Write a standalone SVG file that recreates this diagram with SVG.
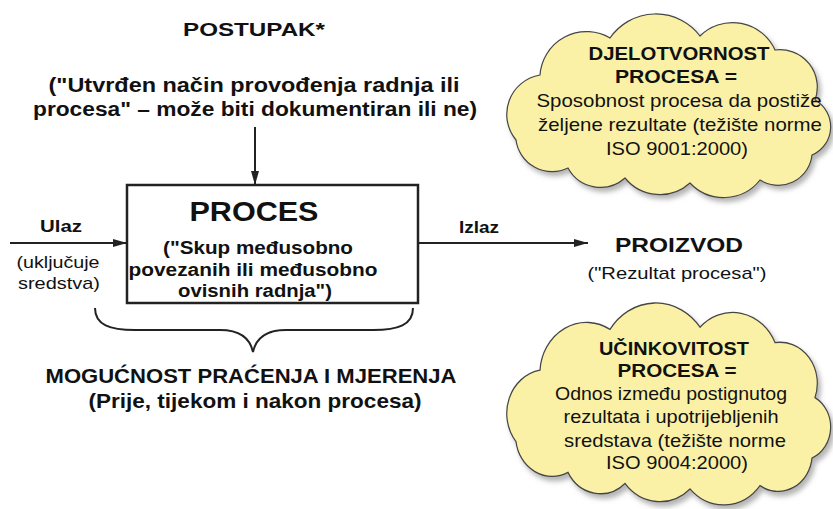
<svg xmlns="http://www.w3.org/2000/svg" width="833" height="509" viewBox="0 0 833 509">
<style>
text{font-family:"Liberation Sans",Arial,sans-serif;fill:#111;text-anchor:middle}
.b{font-weight:bold}
.ln{stroke:#222;stroke-width:2;fill:none}
.cloud{fill:#fbf1a6;stroke:#444;stroke-width:1.2}
</style>
<defs>
<marker id="ah" markerUnits="userSpaceOnUse" markerWidth="15" markerHeight="10" refX="14" refY="5" orient="auto">
<path d="M0,1 L14,5 L0,9 z" fill="#222"/>
</marker>
<filter id="sh" x="-10%" y="-10%" width="125%" height="130%">
<feDropShadow dx="3" dy="4" stdDeviation="2.5" flood-color="#777" flood-opacity="0.55"/>
</filter>
<path id="cl" d="M516,140 A40,40 0 0 1 540,75 A46.6,46.6 0 0 1 610,38 A55.5,55.5 0 0 1 700,36 A46.4,46.4 0 0 1 775,50 A37.4,37.4 0 0 1 815,100 A30.7,30.7 0 0 1 812,155 A34,34 0 0 1 760,180 A46.3,46.3 0 0 1 690,183 A45,45 0 0 1 625,178 A36.9,36.9 0 0 1 568,168 A36.5,36.5 0 0 1 516,140 Z"/>
</defs>
<g id="cloud-djelotvornost">
<use href="#cl" class="cloud" filter="url(#sh)"/>
<text class="b" x="679" y="60" font-size="18.5" textLength="181" lengthAdjust="spacingAndGlyphs">DJELOTVORNOST</text>
<text class="b" x="676" y="83" font-size="18.5" textLength="122" lengthAdjust="spacingAndGlyphs">PROCESA =</text>
<text x="679" y="107" font-size="18.5" textLength="285" lengthAdjust="spacingAndGlyphs">Sposobnost procesa da postiže</text>
<text x="680" y="131" font-size="18.5" textLength="284" lengthAdjust="spacingAndGlyphs">željene rezultate (težište norme</text>
<text x="677" y="155" font-size="18.5" textLength="142" lengthAdjust="spacingAndGlyphs">ISO 9001:2000)</text>
</g>
<g id="cloud-ucinkovitost">
<use href="#cl" class="cloud" filter="url(#sh)" transform="translate(0,303) scale(1,1.1) translate(0,-14)" vector-effect="non-scaling-stroke"/>
<text class="b" x="674" y="355" font-size="18.5" textLength="150" lengthAdjust="spacingAndGlyphs">UČINKOVITOST</text>
<text class="b" x="677" y="377" font-size="18.5" textLength="119" lengthAdjust="spacingAndGlyphs">PROCESA =</text>
<text x="671" y="400" font-size="18.5" textLength="232" lengthAdjust="spacingAndGlyphs">Odnos između postignutog</text>
<text x="671" y="423" font-size="18.5" textLength="215" lengthAdjust="spacingAndGlyphs">rezultata i upotrijebljenih</text>
<text x="675" y="447" font-size="18.5" textLength="222" lengthAdjust="spacingAndGlyphs">sredstava (težište norme</text>
<text x="677" y="469" font-size="18.5" textLength="142" lengthAdjust="spacingAndGlyphs">ISO 9004:2000)</text>
</g>
<g id="postupak">
<text class="b" x="254" y="36" font-size="18.5" textLength="142" lengthAdjust="spacingAndGlyphs">POSTUPAK*</text>
<text class="b" x="254" y="92" font-size="19.5" textLength="411" lengthAdjust="spacingAndGlyphs">("Utvrđen način provođenja radnja ili</text>
<text class="b" x="255" y="116" font-size="19.5" textLength="444" lengthAdjust="spacingAndGlyphs">procesa" – može biti dokumentiran ili ne)</text>
</g>
<g id="proces">
<rect x="127" y="185" width="291" height="118" fill="#fff" stroke="#222" stroke-width="2.5"/>
<text class="b" x="254" y="221" font-size="27" textLength="129" lengthAdjust="spacingAndGlyphs">PROCES</text>
<text class="b" x="258" y="254" font-size="18" textLength="190" lengthAdjust="spacingAndGlyphs">("Skup međusobno</text>
<text class="b" x="253" y="276" font-size="18" textLength="249" lengthAdjust="spacingAndGlyphs">povezanih ili međusobno</text>
<text class="b" x="255" y="297" font-size="18" textLength="154" lengthAdjust="spacingAndGlyphs">ovisnih radnja")</text>
</g>
<g id="ulaz">
<text class="b" x="61" y="232" font-size="17" textLength="42" lengthAdjust="spacingAndGlyphs">Ulaz</text>
<text x="58" y="268" font-size="17" textLength="83" lengthAdjust="spacingAndGlyphs">(uključuje</text>
<text x="59" y="289" font-size="17" textLength="82" lengthAdjust="spacingAndGlyphs">sredstva)</text>
</g>
<g id="izlaz">
<text class="b" x="479" y="233" font-size="17" textLength="40" lengthAdjust="spacingAndGlyphs">Izlaz</text>
</g>
<g id="proizvod">
<text class="b" x="679" y="252" font-size="19.5" textLength="128" lengthAdjust="spacingAndGlyphs">PROIZVOD</text>
<text x="677" y="279" font-size="17" textLength="179" lengthAdjust="spacingAndGlyphs">("Rezultat procesa")</text>
</g>
<g id="mogucnost">
<text class="b" x="251" y="383" font-size="20.5" textLength="411" lengthAdjust="spacingAndGlyphs">MOGUĆNOST PRAĆENJA I MJERENJA</text>
<text class="b" x="255" y="408" font-size="20.5" textLength="333" lengthAdjust="spacingAndGlyphs">(Prije, tijekom i nakon procesa)</text>
</g>
<g id="connectors">
<line class="ln" x1="255" y1="127" x2="255" y2="185" marker-end="url(#ah)"/>
<line class="ln" x1="10" y1="243" x2="127" y2="243" marker-end="url(#ah)"/>
<line class="ln" x1="418" y1="243" x2="588" y2="243" marker-end="url(#ah)"/>
<path class="ln" stroke-width="2.5" d="M95,308 C95,325 110,330 135,330 L220,330 C240,330 250,338 253,352 C256,338 266,330 286,330 L373,330 C398,330 413,325 413,308"/>
</g>
</svg>
